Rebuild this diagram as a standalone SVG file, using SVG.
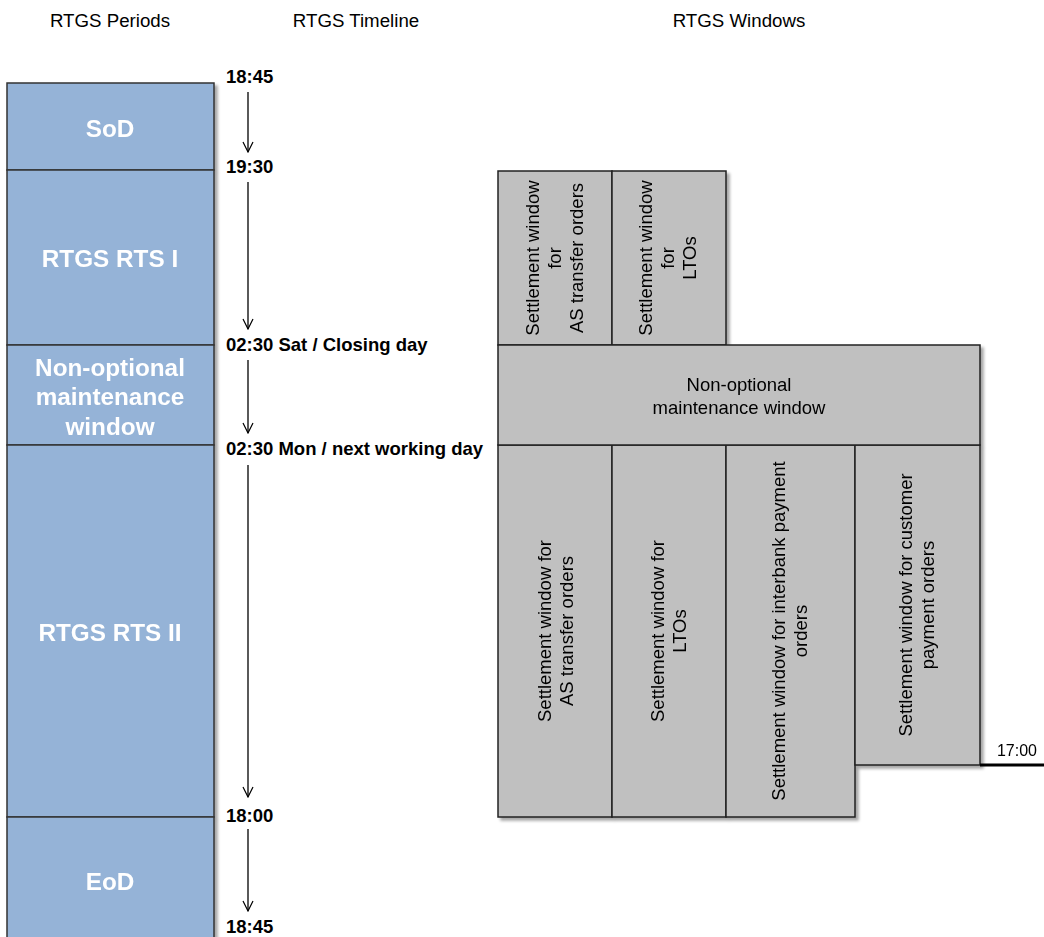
<svg xmlns="http://www.w3.org/2000/svg" width="1044" height="937" viewBox="0 0 1044 937">
<defs>
<filter id="sh" x="-10%" y="-10%" width="130%" height="130%">
<feDropShadow dx="3" dy="3" stdDeviation="1.5" flood-color="#000" flood-opacity="0.35"/>
</filter>
<marker id="arr" viewBox="0 0 12 12" refX="11" refY="6" markerWidth="12" markerHeight="12" markerUnits="userSpaceOnUse" orient="auto">
<path d="M1,1 L11,6 L1,11" fill="none" stroke="#000" stroke-width="1.2"/>
</marker>
<style>
.hdr{font-family:"Liberation Sans",Arial,sans-serif;font-size:18.7px;fill:#000;text-anchor:middle}
.blue{fill:#95B3D7;stroke:#333;stroke-width:1.5}
.btxt{font-family:"Liberation Sans",Arial,sans-serif;font-size:24.3px;font-weight:bold;fill:#fff;text-anchor:middle}
.gray{fill:#C0C0C0;stroke:#222;stroke-width:1.5}
.gtxt{font-family:"Liberation Sans",Arial,sans-serif;font-size:18.5px;fill:#000;text-anchor:middle}
.tl{font-family:"Liberation Sans",Arial,sans-serif;font-size:18.5px;font-weight:bold;fill:#000}
.ar{stroke:#000;stroke-width:1.3;fill:none;marker-end:url(#arr)}
</style>
</defs>
<rect width="1044" height="937" fill="#fff"/>
<g id="headers">
<text class="hdr" x="110" y="27">RTGS Periods</text>
<text class="hdr" x="356" y="27">RTGS Timeline</text>
<text class="hdr" x="739" y="27">RTGS Windows</text>
</g>
<g id="periods" filter="url(#sh)">
<g id="p-sod"><rect class="blue" x="7" y="83" width="207" height="87"/><text class="btxt" x="110" y="137">SoD</text></g>
<g id="p-rts1"><rect class="blue" x="7" y="170" width="207" height="175"/><text class="btxt" x="110" y="267">RTGS RTS I</text></g>
<g id="p-maint"><rect class="blue" x="7" y="345" width="207" height="100"/><text class="btxt" x="110" y="376">Non-optional</text><text class="btxt" x="110" y="405">maintenance</text><text class="btxt" x="110" y="435">window</text></g>
<g id="p-rts2"><rect class="blue" x="7" y="445" width="207" height="372"/><text class="btxt" x="110" y="641">RTGS RTS II</text></g>
<g id="p-eod"><rect class="blue" x="7" y="817" width="207" height="130"/><text class="btxt" x="110" y="890">EoD</text></g>
</g>
<g id="timeline-labels">
<text class="tl" x="226" y="83">18:45</text>
<text class="tl" x="226" y="173">19:30</text>
<text class="tl" x="226" y="351">02:30 Sat / Closing day</text>
<text class="tl" x="226" y="455">02:30 Mon / next working day</text>
<text class="tl" x="226" y="822">18:00</text>
<text class="tl" x="226" y="933">18:45</text>
</g>
<g id="connectors">
<line class="ar" x1="248" y1="92" x2="248" y2="152"/>
<line class="ar" x1="248" y1="182" x2="248" y2="329"/>
<line class="ar" x1="248" y1="360" x2="248" y2="433"/>
<line class="ar" x1="248" y1="465" x2="248" y2="797"/>
<line class="ar" x1="248" y1="829" x2="248" y2="911"/>
</g>
<g id="windows" filter="url(#sh)">
<g id="w-as1"><rect class="gray" x="498" y="171" width="114" height="174"/>
<text class="gtxt" transform="translate(555,258) rotate(-90)"><tspan x="0" y="-16">Settlement window</tspan><tspan x="0" y="6">for</tspan><tspan x="0" y="28">AS transfer orders</tspan></text></g>
<g id="w-lto1"><rect class="gray" x="612" y="171" width="114" height="174"/>
<text class="gtxt" transform="translate(668,258) rotate(-90)"><tspan x="0" y="-16">Settlement window</tspan><tspan x="0" y="6">for</tspan><tspan x="0" y="28">LTOs</tspan></text></g>
<g id="w-as2"><rect class="gray" x="498" y="445" width="114" height="372"/>
<text class="gtxt" transform="translate(556,631) rotate(-90)"><tspan x="0" y="-5">Settlement window for</tspan><tspan x="0" y="17">AS transfer orders</tspan></text></g>
<g id="w-lto2"><rect class="gray" x="612" y="445" width="114" height="372"/>
<text class="gtxt" transform="translate(669,631) rotate(-90)"><tspan x="0" y="-5">Settlement window for</tspan><tspan x="0" y="17">LTOs</tspan></text></g>
<g id="w-ib"><rect class="gray" x="726" y="445" width="129" height="372"/>
<text class="gtxt" transform="translate(790,631) rotate(-90)"><tspan x="0" y="-5">Settlement window for interbank payment</tspan><tspan x="0" y="17">orders</tspan></text></g>
<g id="w-cust"><rect class="gray" x="855" y="445" width="125" height="320"/>
<text class="gtxt" transform="translate(917,605) rotate(-90)"><tspan x="0" y="-5">Settlement window for customer</tspan><tspan x="0" y="17">payment orders</tspan></text></g>
<g id="w-maint"><rect class="gray" x="498" y="345" width="482" height="100"/>
<text class="gtxt" x="739" y="391">Non-optional</text><text class="gtxt" x="739" y="414">maintenance window</text></g>
</g>
<g id="cutoff">
<line x1="980" y1="765" x2="1044" y2="765" stroke="#000" stroke-width="3"/>
<text class="gtxt" x="1017" y="756" style="font-size:16px">17:00</text>
</g>
</svg>
